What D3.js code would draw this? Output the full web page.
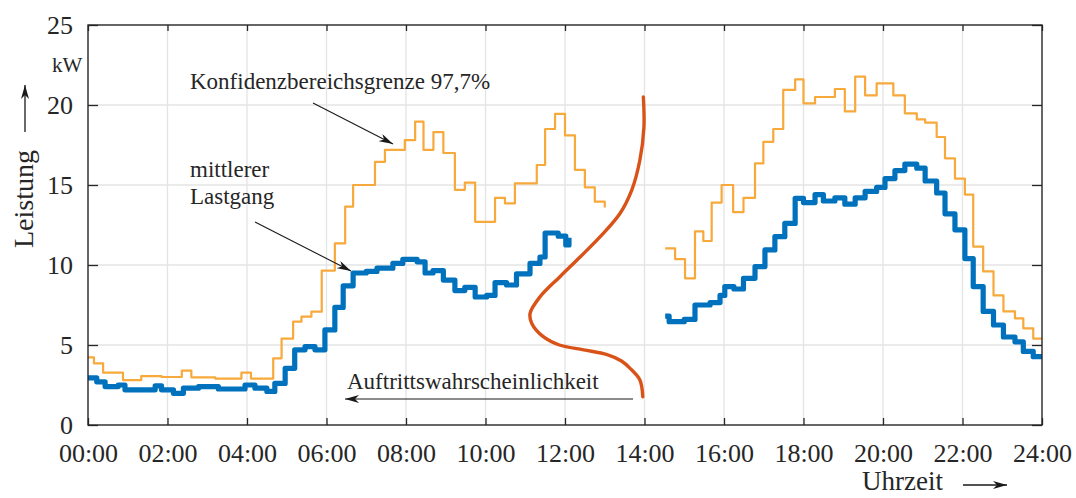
<!DOCTYPE html>
<html><head><meta charset="utf-8">
<script src="https://cdn.jsdelivr.net/npm/d3@7"></script>
<style>
body{margin:0;background:#fff}
text{font-family:"Liberation Serif","Times New Roman",serif;fill:#262626}
</style>
</head><body>
<svg id="c" width="1076" height="498"></svg>
<script>
// ---------- data ----------
const xTickValues = [0,2,4,6,8,10,12,14,16,18,20,22,24];
const xTickLabels = ["00:00","02:00","04:00","06:00","08:00","10:00","12:00","14:00","16:00","18:00","20:00","22:00","24:00"];
const yTickValues = [0,5,10,15,20,25];

// mittlerer Lastgang (hours, kW) - step data
const meanTime1 = [0,0.22,0.43,0.76,0.93,1.69,1.85,2.15,2.40,2.78,3.28,3.95,4.2,4.5,4.7,4.96,5.2,5.46,5.71,5.96,6.21,6.42,6.67,7.0,7.27,7.67,7.92,8.28,8.48,8.68,8.94,9.23,9.48,9.74,10.03,10.24,10.53,10.78,11.12,11.37,11.5,11.83,12.02,12.1];
const meanLoad1 = [2.95,2.7,2.4,2.5,2.2,2.45,2.2,1.98,2.3,2.4,2.25,2.5,2.3,2.1,2.6,3.54,4.7,4.9,4.7,5.94,7.35,8.7,9.5,9.6,9.8,10.1,10.35,10.2,9.5,9.65,9.06,8.4,8.6,8.0,8.1,8.9,8.75,9.45,10.1,10.5,12.0,11.8,11.25,11.7];
const meanTime2 = [14.52,14.62,15.0,15.27,15.65,15.9,16.02,16.25,16.49,16.78,17.03,17.28,17.53,17.79,18.0,18.29,18.5,18.79,19.04,19.3,19.55,19.84,20.05,20.3,20.55,20.85,21.06,21.35,21.56,21.81,22.06,22.27,22.52,22.78,23.03,23.32,23.53,23.78,24.0];
const meanLoad2 = [6.8,6.46,6.6,7.5,7.65,8.1,8.65,8.5,9.17,9.9,10.94,11.77,12.6,14.17,13.9,14.4,14.0,14.2,13.8,14.2,14.6,14.85,15.4,15.9,16.3,16.05,15.25,14.5,13.2,12.2,10.4,8.65,7.1,6.25,5.5,5.2,4.6,4.27,4.27];

// Konfidenzbereichsgrenze 97,7 % (hours, kW) - step data
const confTime1 = [0,0.15,0.38,0.88,1.34,1.85,2.36,2.6,3.2,3.86,4.1,4.66,4.87,5.16,5.37,5.62,5.88,6.21,6.47,6.67,7.22,7.47,7.97,8.23,8.44,8.69,8.94,9.23,9.48,9.74,10.24,10.49,10.74,11.29,11.5,11.75,12.0,12.25,12.5,12.75,13.0];
const confLoad1 = [4.23,3.85,3.27,2.81,3.06,3.0,3.4,2.98,2.9,3.27,2.9,4.17,5.4,6.46,6.77,7.08,9.65,11.35,13.65,15.0,16.45,17.2,17.8,18.96,17.2,18.3,17.0,14.7,15.15,12.7,14.2,13.85,15.1,16.25,18.5,19.44,18.1,15.94,14.85,13.96,13.6];
const confTime2 = [14.52,14.77,15.02,15.27,15.48,15.69,15.94,16.23,16.49,16.78,16.99,17.24,17.49,17.79,18.0,18.29,18.79,19.04,19.3,19.55,19.84,20.26,20.55,20.85,21.06,21.35,21.56,21.81,22.06,22.27,22.52,22.78,23.03,23.32,23.53,23.78,24.0];
const confLoad2 = [11.04,10.37,9.17,12.1,11.5,13.9,15.0,13.3,14.2,16.35,17.7,18.5,20.94,21.6,20.1,20.5,21.0,19.6,21.77,20.6,21.35,20.6,19.48,19.1,18.9,18.0,16.67,15.4,14.4,11.15,9.6,8.1,7.1,6.67,6.04,5.4,5.4];

// Auftrittswahrscheinlichkeit (kW level, relative probability) drawn leftwards from 14:00
const probLevel = [20.5,18.6,16.56,14.7,13.2,11.77,10.5,9.27,8.0,6.98,6.35,5.52,5.0,4.7,4.4,4.0,3.54,2.81,1.77];
const probValue = [0.002,0.001,0.008,0.022,0.043,0.077,0.112,0.147,0.182,0.199,0.196,0.176,0.148,0.106,0.065,0.040,0.025,0.008,0.003];

// ---------- chart ----------
const svg = d3.select("#c");
const x = d3.scaleLinear().domain([0,24]).range([88,1042]);
const y = d3.scaleLinear().domain([0,25]).range([425,25]);
const p = d3.scaleLinear().domain([0,0.2]).range([x(14), x(14)-115]);
const axisCol = "#262626";

const defs = svg.append("defs");
defs.append("marker").attr("id","ah").attr("viewBox","0 0 14 8").attr("refX",14).attr("refY",4)
  .attr("markerWidth",14).attr("markerHeight",8).attr("markerUnits","userSpaceOnUse").attr("orient","auto")
  .append("path").attr("d","M0,0 L14,4 L0,8 L4,4 Z").attr("fill","#1a1a1a");
defs.append("clipPath").attr("id","clip").append("rect")
  .attr("x",x(0)).attr("y",y(25)).attr("width",x(24)-x(0)).attr("height",y(0)-y(25));

// grid
const grid = svg.append("g").attr("stroke","#e4e4e4").attr("stroke-width",1.3);
grid.selectAll(".vx").data(xTickValues.slice(1,-1)).join("line")
  .attr("x1",d=>x(d)).attr("x2",d=>x(d)).attr("y1",y(0)).attr("y2",y(25));
grid.selectAll(".hy").data(yTickValues.slice(1,-1)).join("line")
  .attr("y1",d=>y(d)).attr("y2",d=>y(d)).attr("x1",x(0)).attr("x2",x(24));

// data lines
const stepLine = d3.line().x(d=>x(d[0])).y(d=>y(d[1])).curve(d3.curveStepAfter);
const plot = svg.append("g").attr("clip-path","url(#clip)");
[[confTime1,confLoad1],[confTime2,confLoad2]].forEach(([t,v])=>{
  plot.append("path").datum(d3.zip(t,v)).attr("d",stepLine)
    .attr("fill","none").attr("stroke","#F7A93B").attr("stroke-width",2.2).attr("stroke-linejoin","round");
});
[[meanTime1,meanLoad1],[meanTime2,meanLoad2]].forEach(([t,v])=>{
  plot.append("path").datum(d3.zip(t,v)).attr("d",stepLine)
    .attr("fill","none").attr("stroke","#0072BD").attr("stroke-width",5.2).attr("stroke-linejoin","round");
});
const probLine = d3.line().x(d=>p(d[1])).y(d=>y(d[0])).curve(d3.curveCatmullRom.alpha(0.5));
plot.append("path").datum(d3.zip(probLevel,probValue)).attr("d",probLine)
  .attr("fill","none").attr("stroke","#D95319").attr("stroke-width",3.4).attr("stroke-linecap","round");

// axes (ticks inward on all sides)
const styleAxis = g => { g.select(".domain").remove(); g.selectAll("line").attr("stroke",axisCol).attr("stroke-width",1.3); };
svg.append("g").attr("transform",`translate(0,${y(0)})`)
  .call(d3.axisBottom(x).tickValues(xTickValues).tickFormat((d,i)=>xTickLabels[i]).tickSizeInner(-7).tickSizeOuter(0).tickPadding(19))
  .call(styleAxis).call(g=>g.selectAll("text").attr("font-size",26).attr("fill",axisCol).attr("font-family","Liberation Serif"));
svg.append("g").attr("transform",`translate(0,${y(25)})`)
  .call(d3.axisTop(x).tickValues(xTickValues).tickFormat("").tickSizeInner(-6).tickSizeOuter(0)).call(styleAxis);
svg.append("g").attr("transform",`translate(${x(0)},0)`)
  .call(d3.axisLeft(y).tickValues(yTickValues).tickSizeInner(-10).tickSizeOuter(0).tickPadding(15))
  .call(styleAxis).call(g=>g.selectAll("text").attr("font-size",26).attr("fill",axisCol).attr("dy","0.34em").attr("font-family","Liberation Serif"));
svg.append("g").attr("transform",`translate(${x(24)},0)`)
  .call(d3.axisRight(y).tickValues(yTickValues).tickFormat("").tickSizeInner(-10).tickSizeOuter(0)).call(styleAxis);
svg.append("rect").attr("x",x(0)).attr("y",y(25)).attr("width",x(24)-x(0)).attr("height",y(0)-y(25))
  .attr("fill","none").attr("stroke",axisCol).attr("stroke-width",1.4);

// axis labels
svg.append("text").attr("transform","translate(33,248) rotate(-90)").attr("font-size",28).text("Leistung");
svg.append("line").attr("x1",25).attr("y1",132).attr("x2",25).attr("y2",85)
  .attr("stroke","#1a1a1a").attr("stroke-width",1.3).attr("marker-end","url(#ah)");
svg.append("text").attr("x",52).attr("y",72).attr("font-size",21).text("kW");
svg.append("text").attr("x",862).attr("y",490).attr("font-size",27).text("Uhrzeit");
svg.append("line").attr("x1",963).attr("y1",485).attr("x2",1007).attr("y2",485)
  .attr("stroke","#1a1a1a").attr("stroke-width",1.3).attr("marker-end","url(#ah)");

// annotations
svg.append("text").attr("x",190).attr("y",89).attr("font-size",23).text("Konfidenzbereichsgrenze 97,7%");
svg.append("line").attr("x1",313).attr("y1",103).attr("x2",393).attr("y2",144)
  .attr("stroke","#1a1a1a").attr("stroke-width",1.1).attr("marker-end","url(#ah)");
svg.append("text").attr("x",190).attr("y",177).attr("font-size",23).text("mittlerer");
svg.append("text").attr("x",190).attr("y",204).attr("font-size",23).text("Lastgang");
svg.append("line").attr("x1",255).attr("y1",222).attr("x2",351).attr("y2",271)
  .attr("stroke","#1a1a1a").attr("stroke-width",1.1).attr("marker-end","url(#ah)");
svg.append("text").attr("x",347).attr("y",389).attr("font-size",23).text("Auftrittswahrscheinlichkeit");
svg.append("line").attr("x1",633).attr("y1",399).attr("x2",345).attr("y2",399)
  .attr("stroke","#1a1a1a").attr("stroke-width",1.1).attr("marker-end","url(#ah)");
</script>
</body></html>
